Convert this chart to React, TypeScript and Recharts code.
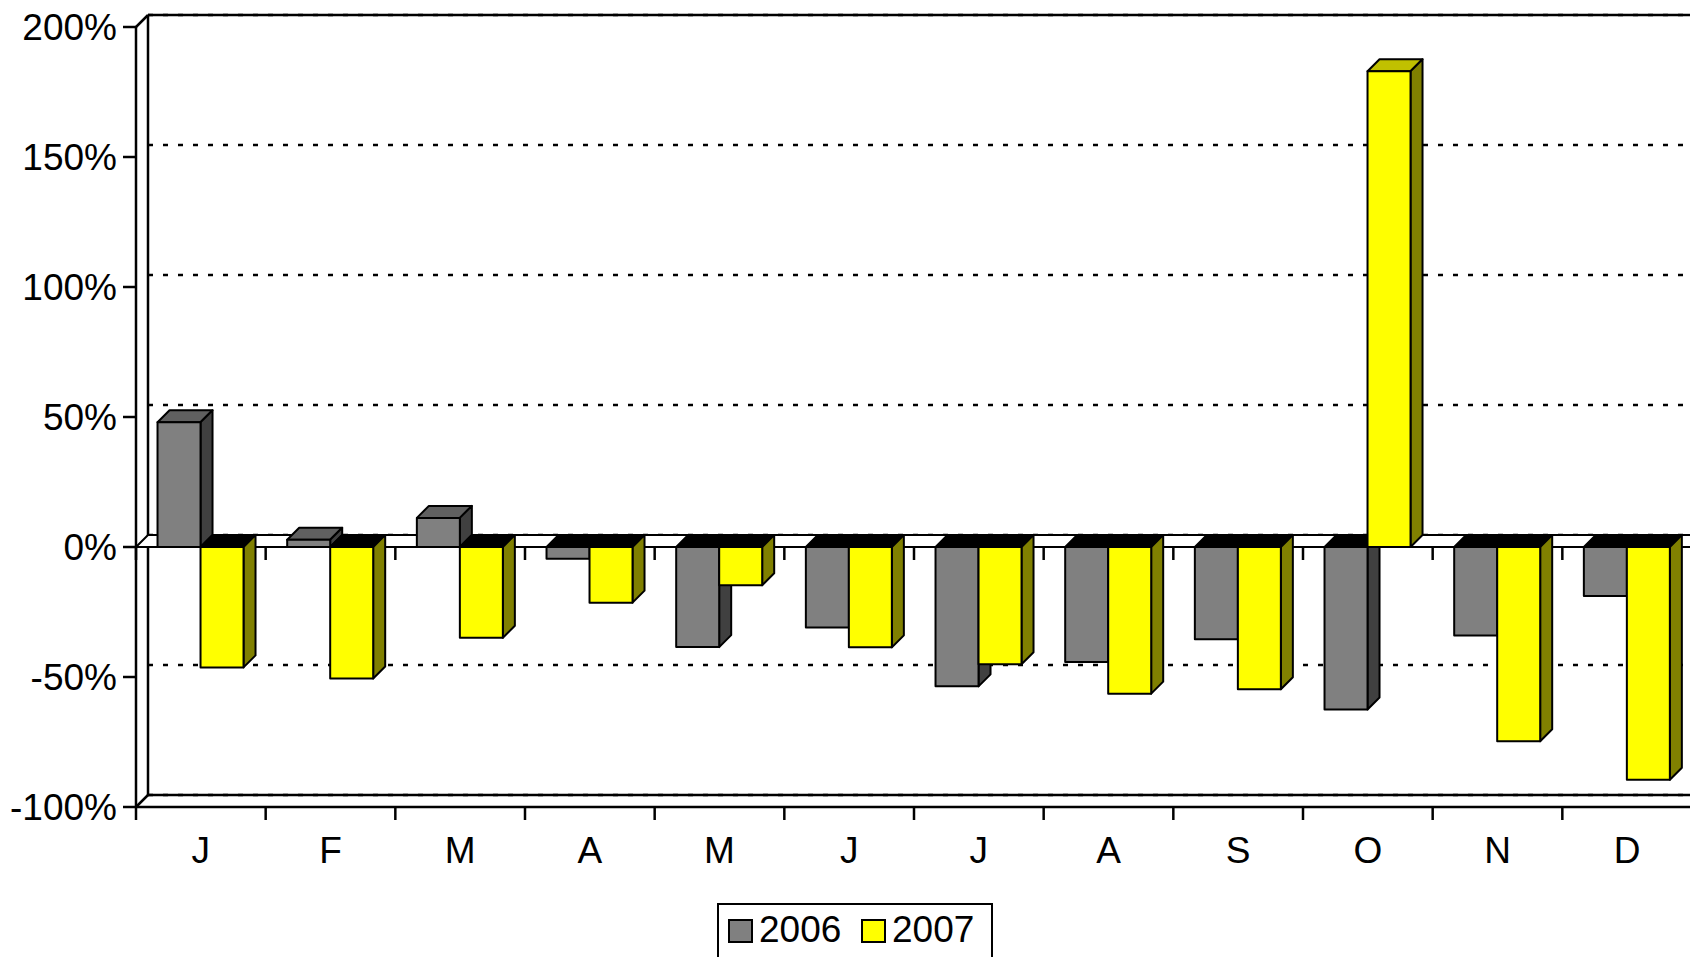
import React from 'react';
import {
  BarChart,
  Bar,
  XAxis,
  YAxis,
  CartesianGrid,
  ReferenceArea,
} from 'recharts';

const months = ['J', 'F', 'M', 'A', 'M', 'J', 'J', 'A', 'S', 'O', 'N', 'D'];
const values2006 = [48, 2.8, 11.2, -4.5, -38.5, -31, -53.6, -44.2, -35.5, -62.5, -34, -18.8];
const values2007 = [-46.3, -50.6, -34.9, -21.4, -14.7, -38.6, -45.1, -56.4, -54.7, 183, -74.7, -89.5];
const yTicks = [-100, -50, 0, 50, 100, 150, 200];

const data = months.map((month, i) => ({
  month,
  y2006: values2006[i],
  y2007: values2007[i],
}));

const DEPTH = 12;
const LINE = '#000000';
const FONT = '"Liberation Sans", Arial, sans-serif';
const FONT_SIZE = 37;

const GRAY = { front: '#808080', top: '#606060', side: '#404040' };
const YELLOW = { front: '#FFFF00', top: '#C0C000', side: '#808000' };

// 3d column: top face, side face, then the front face on top
const Prism = (props) => {
  const { x, y, width, height, v, colors } = props;
  if (x == null || y == null || !width || height == null) return null;
  const top = Math.min(y, y + height);
  const bottom = Math.max(y, y + height);
  const right = x + width;
  const d = DEPTH;
  const topFace = `${x},${top} ${x + d},${top - d} ${right + d},${top - d} ${right},${top}`;
  const sideFace = `${right},${top} ${right + d},${top - d} ${right + d},${bottom - d} ${right},${bottom}`;
  const stroke = { stroke: LINE, strokeWidth: 2, strokeLinejoin: 'round' as const };
  return (
    <g>
      <polygon points={topFace} fill={v < 0 ? '#000000' : colors.top} {...stroke} />
      <polygon points={sideFace} fill={colors.side} {...stroke} />
      <rect x={x} y={top} width={width} height={bottom - top} fill={colors.front} {...stroke} />
    </g>
  );
};

const BackGridLine = (p) => (
  <line
    key={p.key}
    x1={p.x1 + DEPTH}
    y1={p.y1 - DEPTH}
    x2={p.x2 + DEPTH}
    y2={p.y2 - DEPTH}
    stroke={LINE}
    strokeWidth={2.5}
    strokeDasharray="5 10"
  />
);

// left wall, back wall edges
const Frame = (p) => {
  const { x, y, width, height } = p;
  const d = DEPTH;
  const b = y + height;
  const s = { stroke: LINE, strokeWidth: 2.5, fill: 'none' };
  return (
    <g>
      <line x1={x + d} y1={y - d} x2={x + width + d} y2={y - d} {...s} />
      <line x1={x} y1={y} x2={x + d} y2={y - d} {...s} />
      <line x1={x + d} y1={y - d} x2={x + d} y2={b - d} {...s} />
      <line x1={x + d} y1={b - d} x2={x + width + d} y2={b - d} {...s} />
      <line x1={x} y1={b} x2={x + d} y2={b - d} {...s} />
    </g>
  );
};

// floor slab at 0 plus category ticks at 0 and at the bottom
const Floor = (p) => {
  const { x, y, width, height } = p;
  const d = DEPTH;
  const step = width / months.length;
  const b = y + height;
  const pts = `${x},${y} ${x + d},${y - d} ${x + width + d},${y - d} ${x + width},${y}`;
  const ticks = [];
  for (let i = 0; i <= months.length; i++) {
    const tx = x + i * step;
    ticks.push(<line key={'z' + i} x1={tx} y1={y} x2={tx} y2={y + 13} stroke={LINE} strokeWidth={2.5} />);
    ticks.push(<line key={'b' + i} x1={tx} y1={b} x2={tx} y2={b + 13} stroke={LINE} strokeWidth={2.5} />);
  }
  return (
    <g>
      <polygon points={pts} fill="#FFFFFF" stroke={LINE} strokeWidth={2} />
      {ticks}
    </g>
  );
};

const legendItems = [
  { name: '2006', colors: GRAY },
  { name: '2007', colors: YELLOW },
];

const App = () => {
  return (
    <div
      style={{
        position: 'absolute',
        left: 0,
        top: 0,
        width: 1690,
        height: 957,
        overflow: 'hidden',
        background: '#FFFFFF',
        fontFamily: FONT,
      }}
    >
      <BarChart
        width={1700}
        height={957}
        data={data}
        margin={{ top: 27, right: 8, bottom: 90, left: 0 }}
        barCategoryGap="16.6%"
        barGap={0}
      >
        <CartesianGrid vertical={false} horizontal={BackGridLine} />
        <ReferenceArea y1={-100} y2={200} shape={Frame} zIndex={-50} />
        <ReferenceArea y1={-100} y2={0} shape={Floor} zIndex={-40} />
        <XAxis
          dataKey="month"
          height={60}
          interval={0}
          tickLine={false}
          tickSize={13}
          tickMargin={17}
          axisLine={{ stroke: LINE, strokeWidth: 2.5 }}
          tick={{ fill: '#000000', fontSize: FONT_SIZE, fontFamily: FONT }}
        />
        <YAxis
          width={136}
          domain={[-100, 200]}
          ticks={yTicks}
          interval={0}
          tickSize={13}
          tickMargin={6}
          tickFormatter={(v) => `${v}%`}
          axisLine={{ stroke: LINE, strokeWidth: 2.5 }}
          tickLine={{ stroke: LINE, strokeWidth: 2.5 }}
          tick={{ fill: '#000000', fontSize: FONT_SIZE, fontFamily: FONT }}
        />
        <Bar
          dataKey="y2006"
          isAnimationActive={false}
          shape={(p) => <Prism {...p} v={p.payload.y2006} colors={GRAY} />}
        />
        <Bar
          dataKey="y2007"
          isAnimationActive={false}
          shape={(p) => <Prism {...p} v={p.payload.y2007} colors={YELLOW} />}
        />
      </BarChart>

      <div
        style={{
          position: 'absolute',
          left: 717,
          top: 903,
          width: 276,
          height: 90,
          border: '2px solid #000',
          boxSizing: 'border-box',
          background: '#FFFFFF',
        }}
      />
      {legendItems.map((item, i) => {
        const left = 728 + i * 133;
        return (
          <React.Fragment key={item.name}>
            <div
              style={{
                position: 'absolute',
                left,
                top: 919,
                width: 25,
                height: 24,
                background: item.colors.front,
                border: '2px solid #000',
                boxSizing: 'border-box',
              }}
            />
            <div
              style={{
                position: 'absolute',
                left: left + 31,
                top: 911,
                fontSize: FONT_SIZE,
                lineHeight: '37px',
                color: '#000',
                whiteSpace: 'nowrap',
              }}
            >
              {item.name}
            </div>
          </React.Fragment>
        );
      })}
    </div>
  );
};

export default App;
